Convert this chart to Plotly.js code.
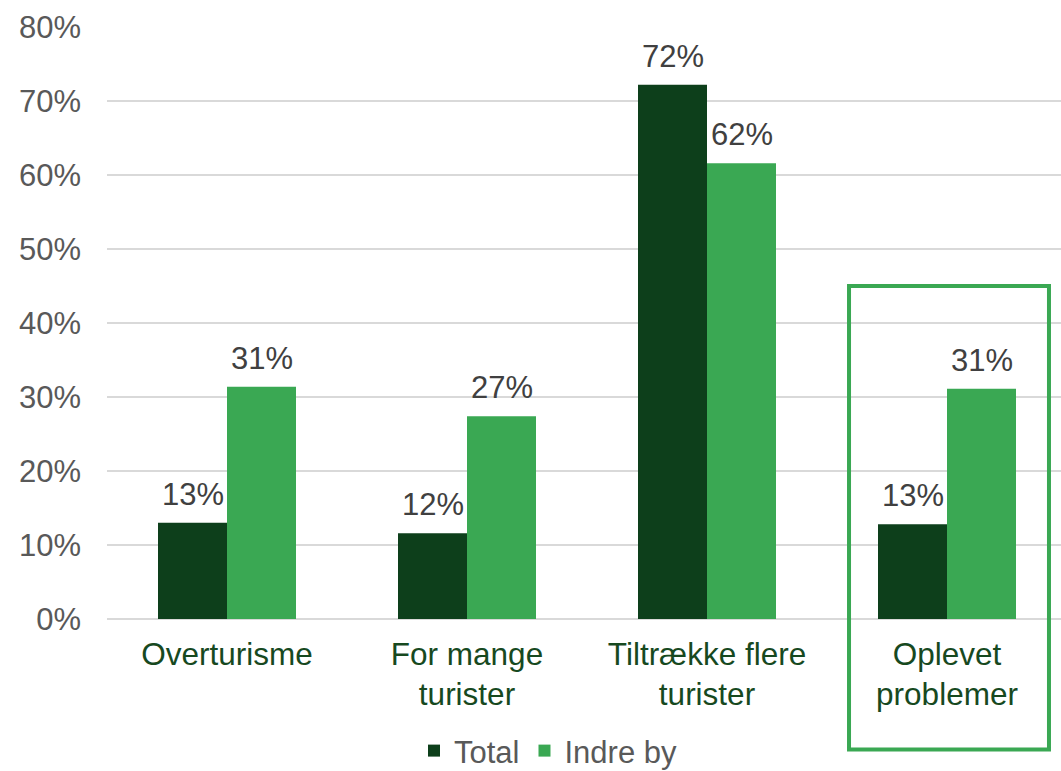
<!DOCTYPE html>
<html>
<head>
<meta charset="utf-8">
<script src="https://cdn.plot.ly/plotly-3.0.1.min.js"></script>
<style>
  html, body { margin: 0; padding: 0; background: #ffffff; }
  #chart { width: 1061px; height: 771px; }
</style>
</head>
<body>
<div id="chart"></div>
<script>
// Categories (x axis) and the two series, in percent
const categories = ["Overturisme", "For mange<br>turister", "Tiltrække flere<br>turister", "Oplevet<br>problemer"];
const totalValues = [13.0, 11.6, 72.2, 12.8];
const indreByValues = [31.4, 27.4, 61.6, 31.1];
const seriesNames = ["Total", "Indre by"];
const yTicks = [0, 10, 20, 30, 40, 50, 60, 70, 80];
const yTickText = yTicks.map(v => v + '%');

const FONT = '"Liberation Sans", Arial, sans-serif';
const DARK = '#0D3F1B';
const LIGHT = '#3AA853';

const traces = [
  { type: 'bar', name: seriesNames[0], x: categories, y: totalValues,
    marker: { color: DARK }, hoverinfo: 'skip' },
  { type: 'bar', name: seriesNames[1], x: categories, y: indreByValues,
    marker: { color: LIGHT }, hoverinfo: 'skip' }
];

// Value labels above each bar, from the same values
const annotations = [];
[totalValues, indreByValues].forEach((vals, s) => {
  vals.forEach((v, i) => {
    annotations.push({
      x: categories[i], y: v, xref: 'x', yref: 'y',
      text: Math.round(v) + '%', showarrow: false,
      xanchor: 'center', yanchor: 'bottom',
      xshift: s === 0 ? -34.5 : 34.5, yshift: 9,
      font: { family: FONT, size: 31, color: '#404040' }
    });
  });
});

const layout = {
  width: 1061, height: 771,
  margin: { l: 107, r: 0, t: 27, b: 152, autoexpand: false },
  paper_bgcolor: '#ffffff', plot_bgcolor: '#ffffff',
  font: { family: FONT, size: 31, color: '#595959' },
  barmode: 'group', bargap: 0.425, bargroupgap: 0,
  showlegend: true,
  legend: {
    orientation: 'h', xref: 'container', yref: 'container',
    x: 0.5165, xanchor: 'center', y: 0.026, yanchor: 'middle',
    font: { family: FONT, size: 31, color: '#595959' },
    itemwidth: 30, itemclick: false, itemdoubleclick: false, traceorder: 'normal'
  },
  xaxis: {
    type: 'category', range: [-0.5, 3.475], fixedrange: true, automargin: false,
    showgrid: false, zeroline: false, showline: false, ticks: '',
    tickfont: { family: FONT, size: 31.5, color: '#17491F' },
    ticklabelstandoff: 13
  },
  yaxis: {
    range: [0, 80], tickmode: 'array', tickvals: yTicks, ticktext: yTickText,
    fixedrange: true, automargin: false,
    showgrid: true, gridcolor: '#D9D9D9', gridwidth: 1.5,
    zeroline: true, zerolinecolor: '#D9D9D9', zerolinewidth: 1.5,
    showline: false, ticks: '',
    tickfont: { family: FONT, size: 31, color: '#595959' },
    ticklabelstandoff: 25
  },
  annotations: annotations,
  shapes: [{
    type: 'rect', xref: 'paper', yref: 'paper',
    x0: 0.7778, x1: 0.9874, y0: -0.2204, y1: 0.5625,
    line: { color: LIGHT, width: 4 }, fillcolor: 'rgba(0,0,0,0)', layer: 'above'
  }]
};

Plotly.newPlot('chart', traces, layout, { displayModeBar: false, staticPlot: true });
</script>
</body>
</html>
